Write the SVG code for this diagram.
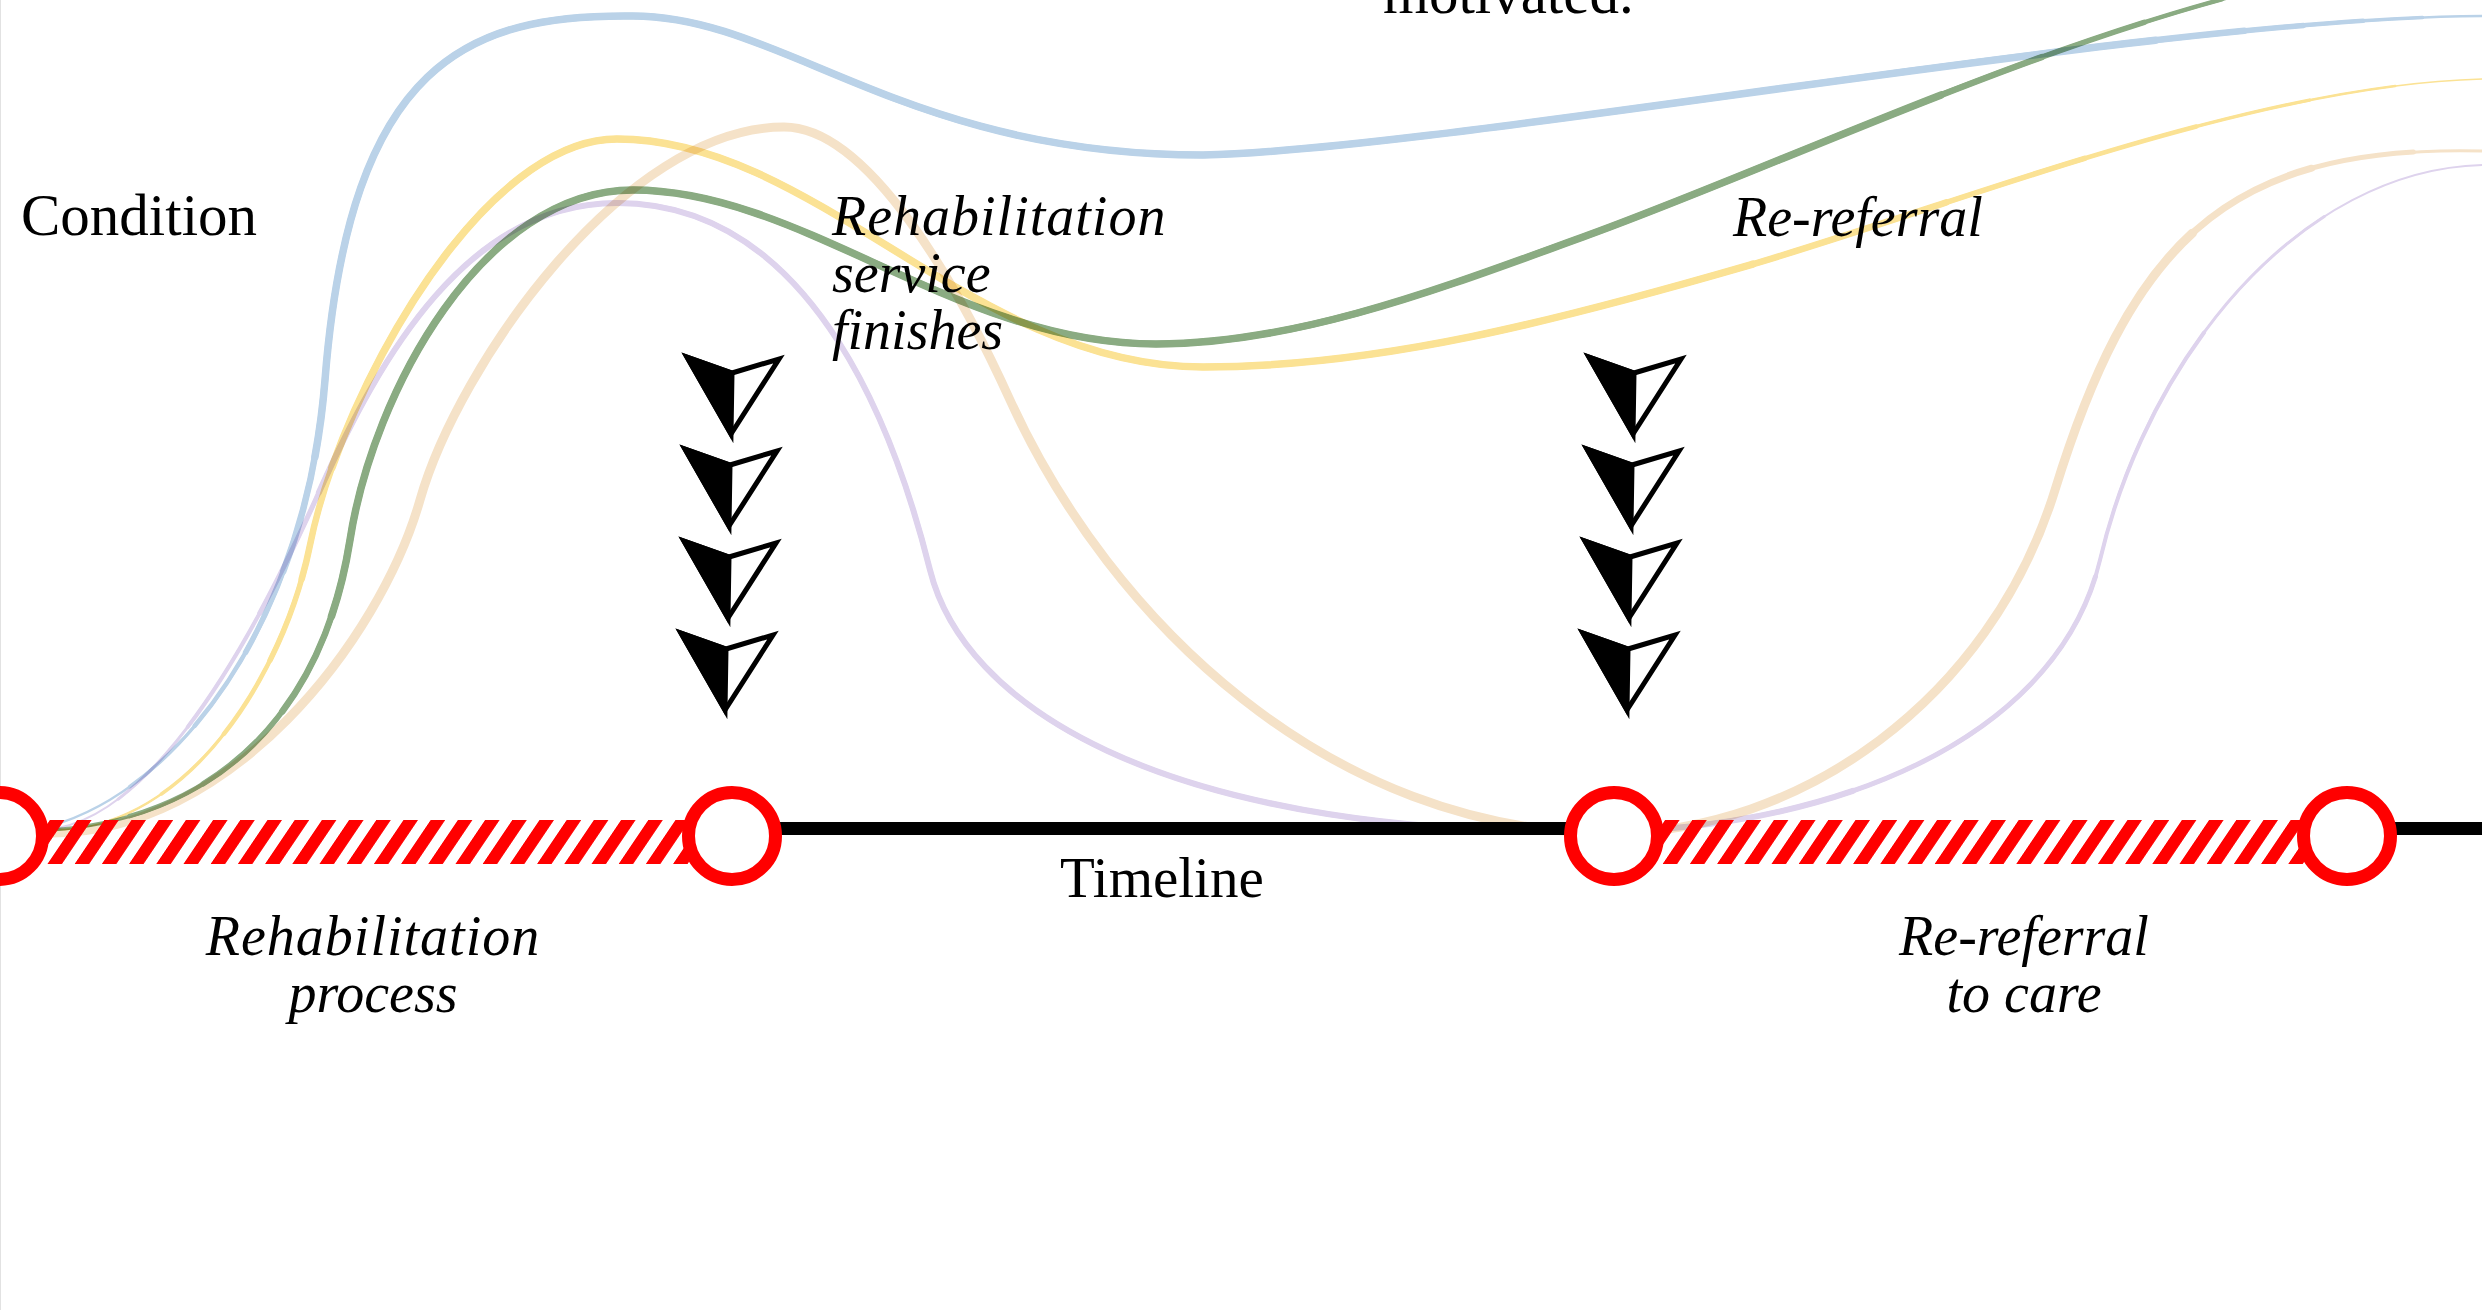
<svg xmlns="http://www.w3.org/2000/svg" width="2482" height="1310" viewBox="0 0 2482 1310">
<defs>
<style>
.lbl{font-family:"Liberation Serif","Times New Roman",serif;fill:#000;}
.up{font-size:59px;}
.it{font-size:56px;font-style:italic;}
.crv{fill:none;stroke-linecap:round;mix-blend-mode:multiply;}
.tl{stroke:#000;stroke-width:13;}
.node-c{fill:#fff;stroke:#ff0000;stroke-width:13;}
.arw-o{fill:#fff;stroke:#000;stroke-width:5;stroke-linejoin:miter;}
.arw-f{fill:#000;stroke:#000;stroke-width:5;stroke-linejoin:miter;}
</style>
<pattern id="hatchA" patternUnits="userSpaceOnUse" x="4.6" y="0" width="27.2" height="44" patternTransform="skewX(-34)"><rect width="14.5" height="44" fill="#ff0000"/></pattern>
<pattern id="hatchB" patternUnits="userSpaceOnUse" x="15" y="0" width="27.2" height="44" patternTransform="skewX(-34)"><rect width="14.5" height="44" fill="#ff0000"/></pattern>
<path id="pBlue" pathLength="100" d="M50,826 C180,790 306,620 325,380 C350,60 470,14 633,16 C783,16 903,155 1203,155 C1450,150 2150,18 2482,16"/>
<path id="pGreen" pathLength="100" d="M50,830 C200,820 320,730 350,540 C373,392 483,190 633,190 C803,190 956,344 1156,344 C1300,344 1450,285 1583,237 C1780,166 2050,35 2300,-20"/>
<path id="pYellow" pathLength="100" d="M53,830 C190,830 285,670 310,545 C340,395 480,139 617,139 C817,139 973,367 1203,367 C1380,367 1560,320 1750,265 C1950,207 2250,85 2482,79"/>
<path id="pPeach" pathLength="100" d="M48,833 C230,835 380,640 420,500 C458,366 624,127 784,127 C870,127 960,290 1010,400 C1110,620 1330,833 1611,833 C1800,833 1990,700 2055,490 C2133,238 2230,145 2482,151"/>
<path id="pPurple" pathLength="100" d="M58,828 C175,805 279,581 320,490 C380,357 467,203 617,203 C820,203 900,450 930,570 C963,702 1150,832 1583,832 C1850,832 2060,730 2100,560 C2148,356 2300,170 2482,165"/>
<g id="arrow">
<polygon class="arw-o" points="-44,-80 1,-64 48,-78 0,-3"/>
<polygon class="arw-f" points="-44,-80 1,-64 0,-3"/>
</g>
</defs>
<rect width="2482" height="1310" fill="#fff"/>
<line x1="0.5" y1="0" x2="0.5" y2="1310" stroke="#e2e2e2" stroke-width="1"/>

<g id="connectors">
<g class="crv" stroke="#bad2e8">
<use href="#pBlue" stroke-width="2.5"/>
<use href="#pBlue" stroke-width="3.5" stroke-dasharray="95 1000" stroke-dashoffset="-3"/>
<use href="#pBlue" stroke-width="4.5" stroke-dasharray="90 1000" stroke-dashoffset="-6"/>
<use href="#pBlue" stroke-width="5.5" stroke-dasharray="85 1000" stroke-dashoffset="-9"/>
<use href="#pBlue" stroke-width="6.5" stroke-dasharray="80 1000" stroke-dashoffset="-12"/>
<use href="#pBlue" stroke-width="7.5" stroke-dasharray="73 1000" stroke-dashoffset="-16"/>
</g>
<g class="crv" stroke="#fbe294">
<use href="#pYellow" stroke-width="1.5"/>
<use href="#pYellow" stroke-width="2.5" stroke-dasharray="95 1000" stroke-dashoffset="-2"/>
<use href="#pYellow" stroke-width="3.5" stroke-dasharray="90 1000" stroke-dashoffset="-4"/>
<use href="#pYellow" stroke-width="4.5" stroke-dasharray="83 1000" stroke-dashoffset="-7"/>
<use href="#pYellow" stroke-width="5.5" stroke-dasharray="76 1000" stroke-dashoffset="-10"/>
<use href="#pYellow" stroke-width="6.5" stroke-dasharray="68 1000" stroke-dashoffset="-13"/>
<use href="#pYellow" stroke-width="7.5" stroke-dasharray="57 1000" stroke-dashoffset="-17"/>
</g>
<g class="crv" stroke="#f5e2c8">
<use href="#pPeach" stroke-width="3"/>
<use href="#pPeach" stroke-width="5" stroke-dasharray="98 1000"/>
<use href="#pPeach" stroke-width="7" stroke-dasharray="95 1000"/>
<use href="#pPeach" stroke-width="9" stroke-dasharray="91 1000"/>
</g>
<g class="crv" stroke="#ded3ed">
<use href="#pPurple" stroke-width="2"/>
<use href="#pPurple" stroke-width="3" stroke-dasharray="93 1000" stroke-dashoffset="-2"/>
<use href="#pPurple" stroke-width="4" stroke-dasharray="85 1000" stroke-dashoffset="-5"/>
<use href="#pPurple" stroke-width="5" stroke-dasharray="73 1000" stroke-dashoffset="-9"/>
<use href="#pPurple" stroke-width="6" stroke-dasharray="59 1000" stroke-dashoffset="-13"/>
</g>
<g class="crv" stroke="#8aab82">
<use href="#pGreen" stroke-width="3.5"/>
<use href="#pGreen" stroke-width="4.5" stroke-dasharray="94 1000" stroke-dashoffset="-3"/>
<use href="#pGreen" stroke-width="5.5" stroke-dasharray="88 1000" stroke-dashoffset="-6"/>
<use href="#pGreen" stroke-width="6.5" stroke-dasharray="80 1000" stroke-dashoffset="-10"/>
<use href="#pGreen" stroke-width="7.5" stroke-dasharray="72 1000" stroke-dashoffset="-14"/>
</g>
</g>

<g id="timeline">
<rect x="0" y="820" width="732" height="44" fill="url(#hatchA)"/>
<line class="tl" x1="732" y1="828.5" x2="1614" y2="828.5"/>
<rect x="1614" y="820" width="733" height="44" fill="url(#hatchB)"/>
<line class="tl" x1="2347" y1="828.5" x2="2482" y2="828.5"/>
</g>

<g id="node-start"><circle class="node-c" cx="-1" cy="836" r="43.5"/></g>
<g id="node-finish"><circle class="node-c" cx="732" cy="836" r="43.5"/></g>
<g id="node-rereferral"><circle class="node-c" cx="1614" cy="836" r="43.5"/></g>
<g id="node-care"><circle class="node-c" cx="2347" cy="836" r="43.5"/></g>

<g id="arrows-finish">
<use href="#arrow" x="731" y="437"/>
<use href="#arrow" x="729" y="529"/>
<use href="#arrow" x="728" y="621"/>
<use href="#arrow" x="725" y="713"/>
</g>
<g id="arrows-rereferral">
<use href="#arrow" x="1633" y="437"/>
<use href="#arrow" x="1631" y="529"/>
<use href="#arrow" x="1629" y="621"/>
<use href="#arrow" x="1627" y="713"/>
</g>

<g id="t-motivated"><text class="lbl up" x="1383" y="13">motivated.</text></g>
<g id="t-condition"><text class="lbl up" x="21" y="235">Condition</text></g>
<g id="t-rehab-finishes"><text class="lbl it" x="832" y="235"><tspan letter-spacing="1">Rehabilitation</tspan><tspan x="832" dy="57">service</tspan><tspan x="832" dy="57">finishes</tspan></text></g>
<g id="t-rereferral"><text class="lbl it" x="1733" y="236">Re-referral</text></g>
<g id="t-timeline"><text class="lbl" style="font-size:57px" x="1060" y="897">Timeline</text></g>
<g id="t-rehab-process"><text class="lbl it" text-anchor="middle" x="373" y="955"><tspan letter-spacing="1">Rehabilitation</tspan><tspan x="373" dy="57">process</tspan></text></g>
<g id="t-rereferral-care"><text class="lbl it" text-anchor="middle" x="2024" y="955">Re-referral<tspan x="2024" dy="57">to care</tspan></text></g>
</svg>
